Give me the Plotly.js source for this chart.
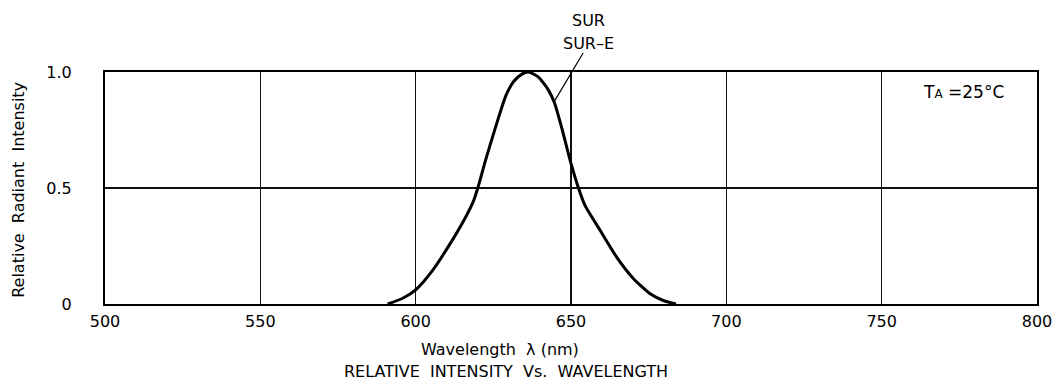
<!DOCTYPE html>
<html>
<head>
<meta charset="utf-8">
<script src="https://cdn.plot.ly/plotly-3.0.1.min.js"></script>
<style>
  html, body { margin: 0; padding: 0; background: #fff; }
  #chart { width: 1053px; height: 383px; }
</style>
</head>
<body>
<div id="chart"></div>
<script>
// Wavelength (nm) and relative radiant intensity
const wavelength = [591, 596, 600, 605.4, 610.4, 615.5, 618.5, 620, 622.5, 625.6, 629.1, 631.6, 634.2, 636.3, 639.5, 642.7, 644.7, 647.2, 650, 652.4, 654.5, 659.4, 664.8, 670.2, 675.6, 679.9, 683.8];
const intensity  = [0, 0.026, 0.061, 0.144, 0.245, 0.36, 0.44, 0.5, 0.62, 0.757, 0.90, 0.96, 0.991, 1.0, 0.978, 0.923, 0.866, 0.75, 0.606, 0.5, 0.425, 0.317, 0.20, 0.108, 0.043, 0.014, 0];

const xTicks = [500, 550, 600, 650, 700, 750, 800];
const yTicks = [0, 0.5, 1.0];
const yTickText = ['0', '0.5', '1.0'];

const seriesLabel1 = 'SUR';
const seriesLabel2 = 'SUR\u2013E';
const tempLabel = 'T<span style="font-size:12px">A</span> =25\u00b0C';
const xTitle = 'Wavelength  \u03bb (nm)';
const chartTitle = 'RELATIVE  INTENSITY  Vs.  WAVELENGTH';
const yTitle = 'Relative  Radiant  Intensity';

const FONT = 'DejaVu Sans, Arial, sans-serif';

const trace = {
  x: wavelength,
  y: intensity,
  mode: 'lines',
  line: { color: '#000', width: 3, shape: 'spline', smoothing: 0.6 },
  cliponaxis: false,
  hoverinfo: 'x+y'
};

function txt(text, x, y, size, extra) {
  return Object.assign({
    text: text, xref: 'x', yref: 'paper', x: x, y: y, showarrow: false,
    xanchor: 'center', yanchor: 'middle',
    font: { family: FONT, size: size, color: '#000' }
  }, extra || {});
}

const layout = {
  width: 1053,
  height: 383,
  margin: { l: 105, r: 16, t: 72, b: 79 },
  paper_bgcolor: '#fff',
  plot_bgcolor: '#fff',
  showlegend: false,
  font: { family: FONT, size: 16, color: '#000' },
  xaxis: {
    range: [500, 800],
    tickvals: xTicks,
    ticktext: xTicks.map(String),
    ticks: '',
    ticklabelstandoff: 2,
    showgrid: true,
    gridcolor: '#111',
    gridwidth: 1.5,
    zeroline: false,
    showline: true,
    mirror: true,
    linecolor: '#000',
    linewidth: 2,
    tickfont: { family: FONT, size: 16, color: '#000' },
    fixedrange: true
  },
  yaxis: {
    range: [0, 1],
    tickvals: yTicks,
    ticktext: yTickText,
    ticks: '',
    ticklabelstandoff: 28,
    showgrid: true,
    gridcolor: '#111',
    gridwidth: 1.5,
    zeroline: false,
    showline: true,
    mirror: true,
    linecolor: '#000',
    linewidth: 2,
    tickfont: { family: FONT, size: 16, color: '#000' },
    fixedrange: true
  },
  shapes: [
    { type: 'line', xref: 'x', yref: 'paper', x0: 644.5, y0: 0.87, x1: 653.9, y1: 1.082,
      line: { color: '#000', width: 1.2 } }
  ],
  annotations: [
    txt(seriesLabel1, 655.5, 1.224, 16),
    txt(seriesLabel2, 655.5, 1.125, 16),
    txt(tempLabel, 776.5, 0.914, 17),
    txt(xTitle, 627.1, -0.198, 16),
    txt(chartTitle, 629.1, -0.293, 16),
    txt(yTitle, 0, 0.49, 16, { xref: 'paper', x: -0.0928, textangle: -90 })
  ]
};

Plotly.newPlot('chart', [trace], layout, { displayModeBar: false, staticPlot: true });
</script>
</body>
</html>
